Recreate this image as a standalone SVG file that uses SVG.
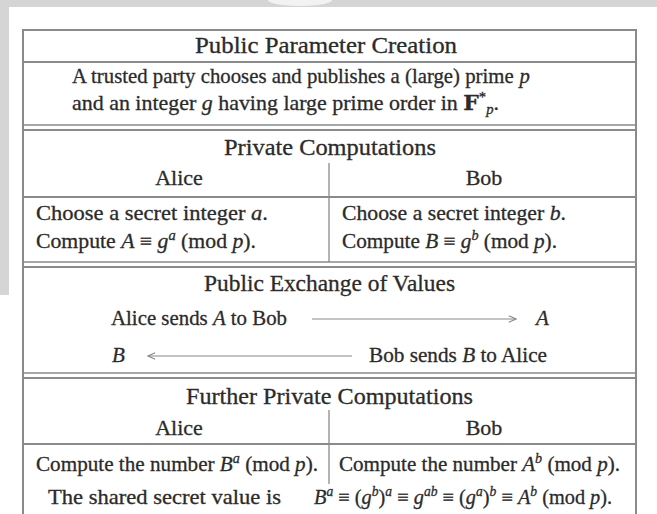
<svg xmlns="http://www.w3.org/2000/svg" width="657" height="514" viewBox="0 0 657 514">
<style>
text{font-family:"Liberation Serif","Times New Roman",serif;fill:#2b2b2b;stroke:#2b2b2b;stroke-width:0.3;font-size:21px}
.t{font-size:23px}
.h{font-size:22px}
.i{font-style:italic}
.sup{font-size:14px}
.ln{stroke:#8a8a8a;stroke-width:2;fill:none}
.thin{stroke:#8a8a8a;stroke-width:1.3;fill:none}
.arr{stroke:#8a8a8a;stroke-width:1.2;fill:none}
</style>
<defs>
<marker id="ah" viewBox="0 0 10 10" refX="9" refY="5" markerWidth="9" markerHeight="9" markerUnits="userSpaceOnUse" orient="auto-start-reverse">
<path d="M1,1.5 L9,5 L1,8.5" stroke="#8a8a8a" stroke-width="1.2" fill="none"/>
</marker>
</defs>
<rect x="0" y="0" width="657" height="514" fill="#fff"/>
<rect x="0" y="0" width="657" height="7" fill="#d5d5d5"/>
<rect x="0" y="0" width="9" height="295" fill="#d5d5d5"/>
<ellipse cx="300" cy="0" rx="32" ry="6" fill="#f2f2f2"/>

<g id="table-frame">
<line class="ln" x1="23" y1="29" x2="23" y2="514"/>
<line class="ln" x1="636" y1="29" x2="636" y2="514"/>
<line class="ln" x1="22" y1="30" x2="637" y2="30"/>
</g>

<g id="sec-params">
<text class="t" x="195" y="53" textLength="262" lengthAdjust="spacingAndGlyphs">Public Parameter Creation</text>
<line class="ln" x1="23" y1="62" x2="636" y2="62"/>
<text x="72" y="83" textLength="458" lengthAdjust="spacingAndGlyphs">A trusted party chooses and publishes a (large) prime<tspan class="i" dx="6">p</tspan></text>
<text x="72" y="110" textLength="427" lengthAdjust="spacingAndGlyphs">and an integer <tspan class="i">g</tspan> having large prime order in <tspan font-family="DejaVu Serif" font-weight="bold">F</tspan><tspan class="sup" dy="-8">*</tspan><tspan class="sup i" dy="12">p</tspan><tspan dy="-4">.</tspan></text>
<line class="thin" x1="23" y1="125" x2="636" y2="125"/>
<line class="ln" x1="23" y1="130" x2="636" y2="130"/>
</g>

<g id="sec-private">
<text class="t" x="224" y="155" textLength="212" lengthAdjust="spacingAndGlyphs">Private Computations</text>
<text class="h" x="179" y="185" text-anchor="middle">Alice</text>
<text class="h" x="484" y="185" text-anchor="middle">Bob</text>
<line class="thin" x1="329" y1="163" x2="329" y2="262"/>
<line class="ln" x1="23" y1="197" x2="636" y2="197"/>
<text x="36" y="220" textLength="232" lengthAdjust="spacingAndGlyphs">Choose a secret integer <tspan class="i">a</tspan>.</text>
<text x="36" y="248" textLength="220" lengthAdjust="spacingAndGlyphs">Compute <tspan class="i">A</tspan> ≡ <tspan class="i">g</tspan><tspan class="sup i" dy="-8">a</tspan><tspan dy="8"> (mod </tspan><tspan class="i">p</tspan>).</text>
<text x="342" y="220" textLength="224" lengthAdjust="spacingAndGlyphs">Choose a secret integer <tspan class="i">b</tspan>.</text>
<text x="342" y="248" textLength="215" lengthAdjust="spacingAndGlyphs">Compute <tspan class="i">B</tspan> ≡ <tspan class="i">g</tspan><tspan class="sup i" dy="-8">b</tspan><tspan dy="8"> (mod </tspan><tspan class="i">p</tspan>).</text>
<line class="thin" x1="23" y1="262" x2="636" y2="262"/>
<line class="ln" x1="23" y1="267" x2="636" y2="267"/>
</g>

<g id="sec-exchange">
<text class="t" x="204" y="291" textLength="251" lengthAdjust="spacingAndGlyphs">Public Exchange of Values</text>
<text x="111" y="325" textLength="176" lengthAdjust="spacingAndGlyphs">Alice sends <tspan class="i">A</tspan> to Bob</text>
<text class="i" x="536" y="325">A</text>
<text class="i" x="112" y="362">B</text>
<text x="369" y="362" textLength="178" lengthAdjust="spacingAndGlyphs">Bob sends <tspan class="i">B</tspan> to Alice</text>
<line class="thin" x1="23" y1="373" x2="636" y2="373"/>
<line class="ln" x1="23" y1="378" x2="636" y2="378"/>
</g>

<g id="connectors">
<line class="arr" x1="312" y1="319" x2="516" y2="319" marker-end="url(#ah)"/>
<line class="arr" x1="352" y1="356" x2="148" y2="356" marker-end="url(#ah)"/>
</g>

<g id="sec-further">
<text class="t" x="186" y="404" textLength="287" lengthAdjust="spacingAndGlyphs">Further Private Computations</text>
<text class="h" x="179" y="435" text-anchor="middle">Alice</text>
<text class="h" x="484" y="435" text-anchor="middle">Bob</text>
<line class="thin" x1="329" y1="410" x2="329" y2="484"/>
<line class="ln" x1="23" y1="444" x2="636" y2="444"/>
<text x="36" y="471" textLength="282" lengthAdjust="spacingAndGlyphs">Compute the number <tspan class="i">B</tspan><tspan class="sup i" dy="-8">a</tspan><tspan dy="8"> (mod </tspan><tspan class="i">p</tspan>).</text>
<text x="339" y="471" textLength="281" lengthAdjust="spacingAndGlyphs">Compute the number <tspan class="i">A</tspan><tspan class="sup i" dy="-8">b</tspan><tspan dy="8"> (mod </tspan><tspan class="i">p</tspan>).</text>
<text x="48" y="504" textLength="233" lengthAdjust="spacingAndGlyphs">The shared secret value is</text>
<text x="314" y="504" textLength="298" lengthAdjust="spacingAndGlyphs"><tspan class="i">B</tspan><tspan class="sup i" dy="-8">a</tspan><tspan dy="8"> ≡ (</tspan><tspan class="i">g</tspan><tspan class="sup i" dy="-8">b</tspan><tspan dy="8">)</tspan><tspan class="sup i" dy="-8">a</tspan><tspan dy="8"> ≡ </tspan><tspan class="i">g</tspan><tspan class="sup i" dy="-8">ab</tspan><tspan dy="8"> ≡ (</tspan><tspan class="i">g</tspan><tspan class="sup i" dy="-8">a</tspan><tspan dy="8">)</tspan><tspan class="sup i" dy="-8">b</tspan><tspan dy="8"> ≡ </tspan><tspan class="i">A</tspan><tspan class="sup i" dy="-8">b</tspan><tspan dy="8"> (mod</tspan><tspan class="i" dx="5">p</tspan>).</text>
</g>
</svg>
